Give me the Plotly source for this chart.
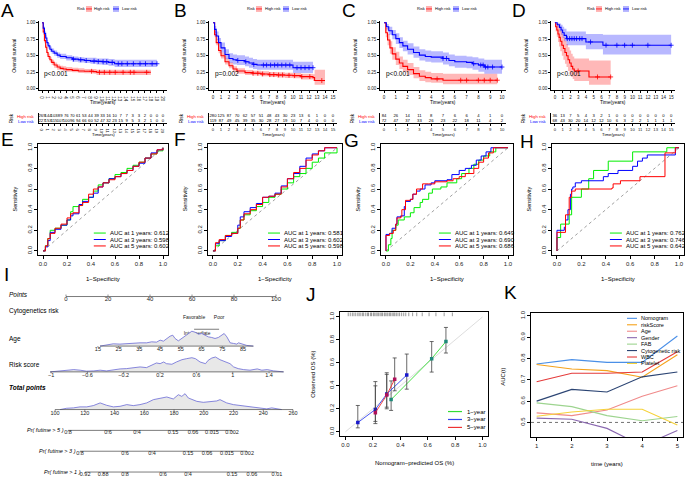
import numpy as np
import plotly.graph_objects as go

W, H = 685, 478
FONT = "Liberation Sans, Arial, sans-serif"
RED, BLUE = "#ff0000", "#0000ff"

# ---------------- A-D: Kaplan-Meier curves (time, survival, lower / upper CI) ----------------
A_hi_t = [0, 0.2, 0.4, 0.6, 0.8, 1.0, 1.3, 1.6, 2.0, 2.5, 3.0, 3.5, 4.0, 5.0, 6.0, 7.0, 8.5, 9.0, 18.0]
A_hi_s = [1.00, 0.86, 0.73, 0.63, 0.55, 0.49, 0.44, 0.40, 0.36, 0.33, 0.31, 0.30, 0.29, 0.28, 0.27, 0.265, 0.26, 0.25, 0.25]
A_hi_lo = [1.00, 0.82, 0.69, 0.59, 0.51, 0.45, 0.40, 0.36, 0.32, 0.29, 0.28, 0.27, 0.26, 0.25, 0.24, 0.235, 0.23, 0.21, 0.21]
A_hi_up = [1.00, 0.89, 0.77, 0.67, 0.59, 0.53, 0.48, 0.44, 0.40, 0.37, 0.35, 0.34, 0.33, 0.32, 0.31, 0.30, 0.30, 0.29, 0.29]
A_lo_t = [0, 0.2, 0.4, 0.6, 0.8, 1.0, 1.3, 1.6, 2.0, 2.5, 3.0, 4.0, 5.0, 6.0, 7.0, 8.0, 9.0, 10.0, 11.0, 12.0, 19.0]
A_lo_s = [1.00, 0.92, 0.84, 0.77, 0.70, 0.65, 0.60, 0.57, 0.54, 0.51, 0.49, 0.47, 0.45, 0.44, 0.43, 0.42, 0.415, 0.41, 0.40, 0.38, 0.38]
A_lo_lo = [1.00, 0.89, 0.80, 0.73, 0.66, 0.61, 0.56, 0.53, 0.50, 0.47, 0.45, 0.43, 0.41, 0.40, 0.39, 0.38, 0.37, 0.36, 0.35, 0.33, 0.33]
A_lo_up = [1.00, 0.95, 0.88, 0.81, 0.74, 0.69, 0.64, 0.61, 0.58, 0.55, 0.53, 0.51, 0.49, 0.48, 0.47, 0.47, 0.46, 0.46, 0.45, 0.44, 0.44]
A_hi_cens = [8.2, 9.5, 10.3, 11.2, 12.1, 13.4, 14.6, 15.2, 17.3]
A_lo_cens = [5.2, 6.4, 7.3, 8.6, 9.3, 10.1, 10.7, 11.6, 12.6, 13.2, 14.1, 15.1, 16.2, 17.1, 18.2, 19.0]
A_times = list(range(0, 21))
A_n_hi = [269, 144, 103, 89, 76, 70, 61, 53, 44, 39, 33, 16, 10, 7, 7, 3, 3, 2, 0, 0, 0]
A_n_lo = [227, 153, 115, 107, 100, 96, 94, 66, 60, 52, 47, 32, 23, 15, 9, 5, 3, 2, 1, 0, 0]

B_hi_t = [0, 0.2, 0.4, 0.7, 1.0, 1.5, 2.0, 2.5, 3.0, 4.0, 5.0, 6.0, 7.0, 8.0, 9.0, 10.0, 11.0, 12.5, 12.7, 14.0]
B_hi_s = [1.00, 0.82, 0.70, 0.58, 0.50, 0.41, 0.35, 0.30, 0.27, 0.245, 0.235, 0.225, 0.215, 0.21, 0.205, 0.20, 0.185, 0.17, 0.125, 0.125]
B_hi_lo = [1.00, 0.78, 0.66, 0.54, 0.46, 0.37, 0.31, 0.26, 0.23, 0.21, 0.20, 0.19, 0.18, 0.17, 0.165, 0.16, 0.14, 0.12, 0.06, 0.06]
B_hi_up = [1.00, 0.87, 0.75, 0.63, 0.55, 0.46, 0.40, 0.34, 0.31, 0.285, 0.275, 0.265, 0.255, 0.25, 0.245, 0.24, 0.23, 0.22, 0.29, 0.29]
B_lo_t = [0, 0.2, 0.4, 0.7, 1.0, 1.5, 2.0, 2.5, 3.0, 4.0, 4.5, 5.0, 5.5, 6.0, 8.0, 10.0, 12.5]
B_lo_s = [1.00, 0.90, 0.80, 0.70, 0.62, 0.52, 0.46, 0.44, 0.43, 0.41, 0.39, 0.37, 0.36, 0.36, 0.36, 0.32, 0.32]
B_lo_lo = [1.00, 0.85, 0.74, 0.63, 0.55, 0.45, 0.39, 0.37, 0.36, 0.34, 0.32, 0.30, 0.29, 0.29, 0.29, 0.24, 0.24]
B_lo_up = [1.00, 0.95, 0.87, 0.77, 0.70, 0.60, 0.54, 0.52, 0.51, 0.49, 0.47, 0.45, 0.44, 0.44, 0.44, 0.41, 0.41]
B_hi_cens = [5.0, 5.6, 6.2, 7.1, 7.6, 8.2, 8.7, 9.5, 10.2, 11.1, 12.1, 13.6]
B_lo_cens = [3.1, 4.1, 5.1, 6.3, 6.7, 7.2, 7.7, 8.1, 8.6, 9.1, 9.6, 10.5, 11.0, 11.5, 12.0, 12.5]
B_times = list(range(0, 16))
B_n_hi = [280, 125, 87, 70, 62, 57, 51, 48, 43, 30, 23, 13, 6, 1, 0, 0]
B_n_lo = [119, 87, 49, 45, 39, 35, 30, 28, 27, 19, 10, 7, 4, 0, 0, 0]

C_hi_t = [0, 0.15, 0.3, 0.5, 0.7, 1.0, 1.3, 1.6, 2.0, 2.5, 3.0, 3.5, 4.0, 5.0, 9.6]
C_hi_s = [1.00, 0.85, 0.74, 0.62, 0.53, 0.45, 0.39, 0.34, 0.29, 0.23, 0.19, 0.17, 0.15, 0.13, 0.13]
C_hi_lo = [1.00, 0.78, 0.66, 0.53, 0.44, 0.36, 0.30, 0.26, 0.21, 0.16, 0.12, 0.10, 0.09, 0.07, 0.07]
C_hi_up = [1.00, 0.92, 0.83, 0.72, 0.63, 0.56, 0.49, 0.44, 0.39, 0.33, 0.28, 0.26, 0.24, 0.23, 0.23]
C_lo_t = [0, 0.2, 0.4, 0.7, 1.0, 1.3, 1.6, 2.0, 2.5, 3.0, 3.5, 4.0, 5.0, 5.5, 6.0, 7.0, 7.5, 8.0, 8.5, 10.0]
C_lo_s = [1.00, 0.94, 0.88, 0.82, 0.76, 0.70, 0.65, 0.60, 0.55, 0.51, 0.49, 0.48, 0.46, 0.43, 0.41, 0.40, 0.38, 0.36, 0.33, 0.33]
C_lo_lo = [1.00, 0.90, 0.82, 0.75, 0.68, 0.62, 0.57, 0.52, 0.47, 0.43, 0.41, 0.40, 0.37, 0.34, 0.32, 0.31, 0.29, 0.26, 0.23, 0.23]
C_lo_up = [1.00, 0.98, 0.94, 0.89, 0.84, 0.78, 0.73, 0.69, 0.64, 0.60, 0.58, 0.57, 0.55, 0.52, 0.50, 0.49, 0.48, 0.46, 0.44, 0.44]
C_hi_cens = [4.5, 6.5, 7.0, 8.0, 8.5, 9.0, 9.6]
C_lo_cens = [5.0, 5.3, 7.6, 8.2, 8.4, 8.6, 8.8, 9.2, 10.0]
C_times = list(range(0, 11))
C_n_hi = [84, 26, 14, 11, 8, 7, 6, 6, 4, 1, 0]
C_n_lo = [72, 47, 37, 33, 26, 23, 22, 18, 11, 4, 2]

D_hi_t = [0, 0.1, 0.25, 0.4, 0.55, 0.7, 0.9, 1.1, 1.3, 1.5, 1.7, 1.9, 2.1, 2.3, 2.5, 4.4, 7.2]
D_hi_s = [1.00, 0.94, 0.89, 0.83, 0.78, 0.72, 0.66, 0.61, 0.55, 0.50, 0.44, 0.39, 0.34, 0.30, 0.27, 0.18, 0.18]
D_hi_lo = [1.00, 0.87, 0.79, 0.71, 0.64, 0.57, 0.50, 0.44, 0.38, 0.33, 0.27, 0.22, 0.18, 0.15, 0.12, 0.06, 0.06]
D_hi_up = [1.00, 1.00, 0.99, 0.96, 0.92, 0.88, 0.83, 0.78, 0.73, 0.68, 0.63, 0.58, 0.53, 0.49, 0.46, 0.43, 0.43]
D_lo_t = [0, 0.3, 0.6, 0.8, 1.0, 1.2, 1.5, 4.0, 6.2, 15.0]
D_lo_s = [1.00, 0.97, 0.93, 0.89, 0.85, 0.81, 0.76, 0.71, 0.66, 0.66]
D_lo_lo = [1.00, 0.93, 0.87, 0.82, 0.77, 0.72, 0.66, 0.60, 0.52, 0.52]
D_lo_up = [1.00, 1.00, 0.99, 0.97, 0.94, 0.91, 0.87, 0.83, 0.82, 0.82]
D_hi_cens = [3.0, 5.5, 7.2]
D_lo_cens = [1.6, 1.9, 2.2, 2.5, 2.8, 3.2, 3.5, 4.6, 6.6, 8.0, 9.0, 10.0, 12.0, 15.0]
D_times = list(range(0, 16))
D_n_hi = [36, 13, 7, 5, 4, 3, 2, 1, 0, 0, 0, 0, 0, 0, 0, 0]
D_n_lo = [68, 43, 30, 20, 14, 12, 12, 10, 6, 3, 2, 2, 1, 1, 1, 1]

KM_P = ["p<0.001", "p=0.002", "p<0.001", "p<0.001"]

# ---------------- E-H: time-dependent ROC (1, 3, 5 years) ----------------
E_fpr = [0, 0.02, 0.04, 0.06, 0.1, 0.15, 0.2, 0.23, 0.25, 0.3, 0.33, 0.38, 0.42, 0.46, 0.5, 0.55, 0.6, 0.65, 0.7, 0.75, 0.8, 0.85, 0.9, 0.95, 1.0]
E_tpr1 = [0, 0.05, 0.12, 0.2, 0.22, 0.25, 0.3, 0.38, 0.43, 0.44, 0.5, 0.52, 0.58, 0.64, 0.66, 0.7, 0.74, 0.76, 0.8, 0.83, 0.86, 0.9, 0.94, 0.97, 1.0]
E_tpr3 = [0, 0.04, 0.1, 0.18, 0.21, 0.25, 0.3, 0.34, 0.36, 0.45, 0.48, 0.52, 0.56, 0.62, 0.66, 0.7, 0.72, 0.75, 0.78, 0.82, 0.85, 0.9, 0.95, 0.98, 1.0]
E_tpr5 = [0, 0.05, 0.12, 0.17, 0.22, 0.26, 0.32, 0.36, 0.37, 0.44, 0.47, 0.55, 0.6, 0.62, 0.66, 0.69, 0.72, 0.75, 0.78, 0.82, 0.86, 0.9, 0.94, 0.98, 1.0]
E_auc = [0.612, 0.598, 0.602]

F_fpr = [0, 0.02, 0.05, 0.1, 0.15, 0.2, 0.22, 0.25, 0.3, 0.35, 0.4, 0.45, 0.5, 0.55, 0.6, 0.65, 0.7, 0.75, 0.8, 0.85, 0.9, 1.0]
F_tpr1 = [0, 0.05, 0.1, 0.15, 0.18, 0.22, 0.3, 0.35, 0.39, 0.43, 0.47, 0.52, 0.55, 0.6, 0.66, 0.72, 0.75, 0.8, 0.86, 0.9, 0.95, 1.0]
F_tpr3 = [0, 0.07, 0.1, 0.14, 0.17, 0.25, 0.33, 0.38, 0.42, 0.46, 0.52, 0.53, 0.56, 0.63, 0.7, 0.75, 0.82, 0.9, 0.94, 0.97, 1.0, 1.0]
F_tpr5 = [0, 0.08, 0.11, 0.15, 0.17, 0.22, 0.3, 0.36, 0.4, 0.45, 0.52, 0.53, 0.55, 0.62, 0.7, 0.76, 0.8, 0.88, 0.93, 0.97, 1.0, 1.0]
F_auc = [0.581, 0.602, 0.598]

G_fpr1 = [0, 0.02, 0.04, 0.05, 0.08, 0.1, 0.15, 0.2, 0.23, 0.28, 0.3, 0.35, 0.38, 0.45, 0.5, 0.58, 0.62, 0.68, 0.72, 0.76, 0.8, 0.85, 0.9, 1.0]
G_tpr1 = [0, 0.06, 0.12, 0.2, 0.25, 0.3, 0.33, 0.37, 0.42, 0.47, 0.5, 0.56, 0.6, 0.62, 0.66, 0.7, 0.75, 0.8, 0.84, 0.88, 0.92, 0.96, 1.0, 1.0]
G_fpr3 = [0, 0, 0.03, 0.05, 0.08, 0.09, 0.12, 0.15, 0.16, 0.2, 0.22, 0.25, 0.28, 0.32, 0.37, 0.4, 0.5, 0.54, 0.6, 0.65, 0.7, 0.74, 0.78, 0.82, 0.86, 1.0]
G_tpr3 = [0, 0.16, 0.17, 0.22, 0.26, 0.33, 0.34, 0.43, 0.48, 0.5, 0.55, 0.58, 0.6, 0.64, 0.66, 0.68, 0.69, 0.74, 0.78, 0.8, 0.83, 0.88, 0.92, 0.96, 1.0, 1.0]
G_fpr5 = [0, 0, 0.03, 0.06, 0.08, 0.09, 0.12, 0.13, 0.16, 0.2, 0.22, 0.25, 0.3, 0.35, 0.4, 0.5, 0.55, 0.6, 0.65, 0.72, 0.76, 0.8, 0.84, 0.88, 1.0]
G_tpr5 = [0, 0.15, 0.17, 0.2, 0.26, 0.32, 0.33, 0.4, 0.49, 0.5, 0.55, 0.6, 0.65, 0.65, 0.67, 0.68, 0.7, 0.72, 0.75, 0.8, 0.86, 0.9, 0.95, 1.0, 1.0]
G_auc = [0.649, 0.690, 0.686]

H_fpr1 = [0, 0, 0.03, 0.03, 0.1, 0.1, 0.12, 0.12, 0.2, 0.2, 0.26, 0.26, 0.3, 0.3, 0.42, 0.42, 0.62, 0.62, 0.9, 0.9, 1.0]
H_tpr1 = [0, 0.13, 0.13, 0.26, 0.26, 0.35, 0.35, 0.52, 0.52, 0.6, 0.6, 0.7, 0.7, 0.78, 0.78, 0.87, 0.87, 0.96, 0.96, 1.0, 1.0]
H_fpr3 = [0, 0, 0.06, 0.07, 0.09, 0.11, 0.12, 0.13, 0.15, 0.2, 0.38, 0.42, 0.5, 0.62, 0.66, 0.7, 0.74, 0.97, 0.97, 1.0]
H_tpr3 = [0, 0.2, 0.23, 0.3, 0.4, 0.55, 0.6, 0.62, 0.66, 0.68, 0.72, 0.75, 0.78, 0.82, 0.87, 0.9, 0.93, 0.93, 1.0, 1.0]
H_fpr5 = [0, 0, 0.07, 0.1, 0.12, 0.15, 0.45, 0.46, 0.52, 0.68, 0.885, 0.97, 0.97, 1.0]
H_tpr5 = [0, 0.18, 0.35, 0.52, 0.58, 0.6, 0.61, 0.65, 0.68, 0.72, 0.95, 0.95, 1.0, 1.0]
H_auc = [0.762, 0.746, 0.642]

# ---------------- I: nomogram ----------------
POINTS_TICKS = [0, 20, 40, 60, 80, 100]
CYTO_LEVELS = ["Favorable", "Intermediate", "Poor"]
CYTO_PTS = [61.0, 62.4, 72.9]
AGE_TICKS = [15, 25, 35, 45, 55, 65, 75, 85]
AGE_SCALE = (15, 85, 15.2, 84.3)          # value range -> points
AGE_DENS_X = [16.0, 19.2, 22.4, 25.6, 28.9, 32.1, 35.3, 38.5, 40.9, 43.3, 45.0, 46.6, 48.2, 49.8, 51.1, 52.2,
              53.8, 55.4, 57.0, 58.6, 60.3, 61.9, 63.5, 65.1, 66.7, 68.3, 69.9, 71.5, 73.1, 74.8, 75.9, 77.2,
              78.8, 80.4, 82.0, 82.8, 84.4, 86.8, 90.0]
AGE_DENS_Y = [0, 1.3, 2.3, 2.0, 2.7, 2.7, 3.3, 3.3, 4.3, 4.0, 6.0, 5.0, 7.7, 10.0, 11.0, 7.7,
              5.3, 7.7, 10.0, 12.7, 15.0, 14.0, 12.0, 12.7, 11.0, 9.3, 8.7, 7.7, 8.7, 11.0, 12.7, 9.3,
              3.3, 2.7, 2.0, 3.3, 2.0, 0.7, 0]
RISK_TICKS = [-1, -0.6, -0.2, 0.2, 0.6, 1, 1.4]
RISK_LABELS = ["\u22121", "\u22120.6", "\u22120.2", "0.2", "0.6", "1", "1.4"]
RISK_SCALE = (-1, 1.4, -7.1, 96.7)
RISK_DENS_X = [-1.01, -0.92, -0.83, -0.75, -0.68, -0.61, -0.53, -0.46, -0.39, -0.31, -0.24, -0.17, -0.09, -0.02,
               0.05, 0.11, 0.16, 0.20, 0.24, 0.27, 0.33, 0.38, 0.44, 0.49, 0.55, 0.59, 0.64, 0.70, 0.73, 0.77,
               0.81, 0.86, 0.92, 0.97, 1.01, 1.06, 1.12, 1.19, 1.27, 1.32, 1.38, 1.45, 1.56]
RISK_DENS_Y = [0, 1.0, 1.7, 2.3, 1.7, 0.7, 1.0, 1.7, 1.0, 2.3, 3.0, 3.3, 4.0, 5.0,
               4.3, 6.7, 9.0, 8.3, 10.0, 8.3, 7.7, 10.0, 12.3, 13.3, 14.3, 13.3, 10.0, 8.3, 11.7, 14.0,
               15.0, 12.3, 10.0, 8.3, 5.0, 3.3, 2.3, 1.7, 3.0, 1.7, 2.3, 1.0, 0]
TOTAL_TICKS = [100, 120, 140, 160, 180, 200, 220, 240, 260]
TOTAL_SCALE = (100, 260, -5.2, 108.1)
TOTAL_DENS_X = [103.4, 107.8, 112.3, 116.8, 121.3, 125.7, 130.3, 134.7, 139.2, 143.7, 148.2, 152.6, 157.1,
                161.6, 166.1, 170.6, 175.1, 179.5, 182.9, 185.2, 187.4, 189.6, 191.9, 195.3, 199.7, 204.2,
                208.7, 210.9, 215.4, 219.9, 224.4, 228.9, 233.3, 237.8, 242.3, 245.7, 249.1, 252.4]
TOTAL_DENS_Y = [0, 1.3, 1.7, 2.7, 2.7, 4.0, 6.7, 4.3, 2.7, 3.3, 5.0, 4.0, 5.0,
                6.7, 10.0, 11.7, 12.7, 10.7, 15.0, 13.3, 16.0, 11.7, 10.0, 8.3, 7.3, 8.0,
                8.7, 10.0, 6.7, 5.0, 4.0, 3.3, 2.7, 1.7, 0.7, 1.7, 0.7, 0]
PR5_LABELS = ["0.8", "0.6", "0.4", "0.15", "0.06", "0.015", "0.002"]
PR5_TOTAL = [108.7, 135.6, 155.1, 179.3, 192.8, 205.5, 219.0]
PR3_LABELS = ["0.8", "0.6", "0.4", "0.15", "0.06", "0.015", "0.002"]
PR3_TOTAL = [116.8, 147.1, 165.2, 189.4, 202.2, 215.6, 229.1]
PR1_LABELS = ["0.92", "0.88", "0.8", "0.6", "0.4", "0.15", "0.06", "0.01"]
PR1_TOTAL = [120.2, 132.3, 147.1, 172.6, 189.4, 219.0, 232.4, 249.2]

# ---------------- J: calibration ----------------
J_1y_pred = [0.333, 0.629, 0.733]
J_1y_obs = [0.280, 0.637, 0.786]
J_1y_lo = [0.186, 0.520, 0.686]
J_1y_hi = [0.443, 0.786, 0.909]
J_3y_pred = [0.090, 0.218, 0.301, 0.447]
J_3y_obs = [0.080, 0.194, 0.329, 0.494]
J_3y_lo = [0.034, 0.071, 0.214, 0.371]
J_3y_hi = [0.229, 0.437, 0.514, 0.677]
J_5y_pred = [0.218, 0.301, 0.359]
J_5y_obs = [0.166, 0.320, 0.457]
J_5y_lo = [0.090, 0.200, 0.357]
J_5y_hi = [0.400, 0.500, 0.643]
J_rug = [0.02, 0.035, 0.05, 0.062, 0.075, 0.09, 0.1, 0.112, 0.125, 0.133, 0.148, 0.16, 0.168, 0.182, 0.19,
         0.203, 0.21, 0.222, 0.231, 0.24, 0.252, 0.261, 0.27, 0.283, 0.29, 0.302, 0.31, 0.322, 0.33, 0.341,
         0.352, 0.36, 0.371, 0.383, 0.395, 0.41, 0.425, 0.44, 0.462, 0.49, 0.52, 0.56, 0.61, 0.66, 0.72, 0.78]

# ---------------- K: AUC(t) of nomogram vs. factors ----------------
K_years = [1, 2, 3, 4, 5]
K_names = ["Nomogram", "riskScore", "Age", "Gender", "FAB", "Cytogenetic risk", "WBC", "Platelet"]
K_auc = [
    [0.774, 0.795, 0.782, 0.782, 0.906],
    [0.772, 0.751, 0.743, 0.712, 0.818],
    [0.545, 0.532, 0.558, 0.623, 0.672],
    [0.520, 0.515, 0.472, 0.390, 0.462],
    [0.592, 0.574, 0.532, 0.508, 0.528],
    [0.600, 0.655, 0.643, 0.714, 0.737],
    [0.691, 0.731, 0.731, 0.737, 0.832],
    [0.529, 0.549, 0.562, 0.562, 0.488],
]
K_colors = ["#4a8fe7", "#f5a21c", "#f08a8a", "#8a68b0", "#9dd48f", "#2b4473", "#e43a3a", "#f6d23a"]

# =====================================================================
fig = go.Figure()
lay = dict(width=W, height=H, margin=dict(l=0, r=0, t=0, b=0), autosize=False,
           paper_bgcolor="white", plot_bgcolor="rgba(0,0,0,0)", showlegend=False,
           font=dict(family=FONT, color="black", size=6))
ann, shp = [], []


def px2x(p):
    return p / W


def px2y(p):
    return 1 - p / H


def note(x, y, s, size=6, color="black", xa="center", ya="middle", angle=0):
    ann.append(dict(x=px2x(x), y=px2y(y), xref="paper", yref="paper", text=s, showarrow=False,
                    font=dict(size=size, color=color, family=FONT), xanchor=xa, yanchor=ya,
                    textangle=angle, borderpad=0))


def seg(x0, y0, x1, y1, color, width=1, dash=None):
    shp.append(dict(type="line", xref="paper", yref="paper", x0=px2x(x0), y0=px2y(y0),
                    x1=px2x(x1), y1=px2y(y1), line=dict(color=color, width=width, dash=dash)))


def add_axes(n, xd, xr, yd, yr, xkw=None, ykw=None):
    sfx = "" if n == 1 else str(n)
    base = dict(showgrid=False, zeroline=False, showline=True, linecolor="black", linewidth=0.7,
                ticks="outside", ticklen=2.5, tickwidth=0.7, tickcolor="black",
                tickfont=dict(size=5, family=FONT, color="#222"), fixedrange=True)
    xa = dict(base, domain=[px2x(xd[0]), px2x(xd[1])], range=list(xr), anchor="y" + sfx)
    ya = dict(base, domain=[px2y(yd[1]), px2y(yd[0])], range=list(yr), anchor="x" + sfx)
    xa.update(xkw or {})
    ya.update(ykw or {})
    lay["xaxis" + sfx] = xa
    lay["yaxis" + sfx] = ya
    return "x" + sfx, "y" + sfx


def step_at(t, s, q):
    idx = np.searchsorted(np.asarray(t), np.asarray(q), side="right") - 1
    return list(np.asarray(s)[idx])


# ---------------- KM panels ----------------
km = [
    dict(tag="A", xd=(39, 167), xr=(-0.5, 20.66),
         hi=(A_hi_t, A_hi_s, A_hi_lo, A_hi_up, A_hi_cens), lo=(A_lo_t, A_lo_s, A_lo_lo, A_lo_up, A_lo_cens),
         times=A_times, nhi=A_n_hi, nlo=A_n_lo),
    dict(tag="B", xd=(209, 337), xr=(-0.5, 15.5),
         hi=(B_hi_t, B_hi_s, B_hi_lo, B_hi_up, B_hi_cens), lo=(B_lo_t, B_lo_s, B_lo_lo, B_lo_up, B_lo_cens),
         times=B_times, nhi=B_n_hi, nlo=B_n_lo),
    dict(tag="C", xd=(380, 506), xr=(-0.34, 10.34),
         hi=(C_hi_t, C_hi_s, C_hi_lo, C_hi_up, C_hi_cens), lo=(C_lo_t, C_lo_s, C_lo_lo, C_lo_up, C_lo_cens),
         times=C_times, nhi=C_n_hi, nlo=C_n_lo),
    dict(tag="D", xd=(551, 675), xr=(-0.5, 15.5),
         hi=(D_hi_t, D_hi_s, D_hi_lo, D_hi_up, D_hi_cens), lo=(D_lo_t, D_lo_s, D_lo_lo, D_lo_up, D_lo_cens),
         times=D_times, nhi=D_n_hi, nlo=D_n_lo),
]
KM_TOP, KM_BOT = 18.5, 88.0
for i, p in enumerate(km):
    xa, ya = add_axes(i + 1, p["xd"], p["xr"], (KM_TOP, KM_BOT), (-0.022, 1.022),
                      xkw=dict(dtick=1, tick0=0, ticklen=2, tickfont=dict(size=4.5, family=FONT, color="#222")),
                      ykw=dict(tickvals=[0, 0.25, 0.5, 0.75, 1], tickformat=".2f", ticklen=2,
                               tickfont=dict(size=4.5, family=FONT, color="#222")))
    groups = [(p["hi"], RED, "rgba(255,0,0,0.28)"), (p["lo"], BLUE, "rgba(0,0,255,0.28)")]
    for (t, s, lo, up, cens), col, fc in groups:
        fig.add_trace(go.Scatter(x=t, y=lo, mode="lines", line=dict(width=0, shape="hv"),
                                 xaxis=xa, yaxis=ya, hoverinfo="skip"))
        fig.add_trace(go.Scatter(x=t, y=up, mode="lines", line=dict(width=0, shape="hv"), fill="tonexty",
                                 fillcolor=fc, xaxis=xa, yaxis=ya, hoverinfo="skip"))
    for (t, s, lo, up, cens), col, fc in groups:
        fig.add_trace(go.Scatter(x=t, y=s, mode="lines", line=dict(color=col, width=1.1, shape="hv"),
                                 xaxis=xa, yaxis=ya))
        fig.add_trace(go.Scatter(x=cens, y=step_at(t, s, cens), mode="markers",
                                 marker=dict(symbol="cross-thin", size=3.5, line=dict(color=col, width=0.8)),
                                 xaxis=xa, yaxis=ya))
    x0, x1 = p["xd"]
    mid = (x0 + x1) / 2
    note(x0 - 25, (KM_TOP + KM_BOT) / 2, "Overall survival", size=5, angle=-90)
    note(mid, 100, "Time(years)", size=4.8)
    t0px = x0 + (0 - p["xr"][0]) / (p["xr"][1] - p["xr"][0]) * (x1 - x0)
    note(t0px + 1, 72, KM_P[i], size=6.5, xa="left")
    # legend
    lx = mid - 27
    note(lx, 6, "Risk", size=4, xa="left")
    for off, col, fc, lab in [(10, RED, "rgba(255,0,0,0.3)", "High risk"), (37, BLUE, "rgba(0,0,255,0.3)", "Low risk")]:
        shp.append(dict(type="rect", xref="paper", yref="paper", x0=px2x(lx + off), x1=px2x(lx + off + 6),
                        y0=px2y(9), y1=px2y(3), fillcolor=fc, line=dict(width=0)))
        seg(lx + off, 6, lx + off + 6, 6, col, 0.8)
        note(lx + off + 7.5, 6, lab, size=4, xa="left")
    # risk table
    tx, ty = add_axes(i + 5, p["xd"], p["xr"], (110.5, 121.5), (-0.5, 1.7),
                      xkw=dict(dtick=1, tick0=0, ticklen=1.2, tickfont=dict(size=4.2, family=FONT, color="#222")),
                      ykw=dict(showticklabels=False, ticks=""))
    fig.add_trace(go.Scatter(x=p["times"], y=[1] * len(p["times"]), mode="text", text=[str(v) for v in p["nhi"]],
                             textfont=dict(size=4.2, family=FONT, color="black"), xaxis=tx, yaxis=ty, cliponaxis=False))
    fig.add_trace(go.Scatter(x=p["times"], y=[0] * len(p["times"]), mode="text", text=[str(v) for v in p["nlo"]],
                             textfont=dict(size=4.2, family=FONT, color="black"), xaxis=tx, yaxis=ty, cliponaxis=False))
    note(x0 - 3, 114, "High risk", size=4.3, color=RED, xa="right")
    note(x0 - 3, 119, "Low risk", size=4.3, color=BLUE, xa="right")
    note(x0 - 28, 116.5, "Risk", size=5, angle=-90)
    note(mid, 133, "Time(years)", size=4.3)

# ---------------- ROC panels ----------------
ROC_COLS = ["#00ee00", "#0000ff", "#ff0000"]
roc = [
    dict(xd=(38.2, 167.8), curves=[(E_fpr, E_tpr1), (E_fpr, E_tpr3), (E_fpr, E_tpr5)], auc=E_auc),
    dict(xd=(208.0, 342.0), curves=[(F_fpr, F_tpr1), (F_fpr, F_tpr3), (F_fpr, F_tpr5)], auc=F_auc),
    dict(xd=(381.1, 512.9), curves=[(G_fpr1, G_tpr1), (G_fpr3, G_tpr3), (G_fpr5, G_tpr5)], auc=G_auc),
    dict(xd=(552.1, 683.9), curves=[(H_fpr1, H_tpr1), (H_fpr3, H_tpr3), (H_fpr5, H_tpr5)], auc=H_auc),
]
ROC_TOP, ROC_BOT = 141.8, 254.2
tick01 = dict(tickvals=[0, 0.2, 0.4, 0.6, 0.8, 1.0], tickformat=".1f", mirror=True, ticklen=3,
              tickfont=dict(size=6, family=FONT, color="#222"))
for i, p in enumerate(roc):
    xa, ya = add_axes(i + 9, p["xd"], (-0.04, 1.04), (ROC_TOP, ROC_BOT), (-0.04, 1.04),
                      xkw=dict(tick01), ykw=dict(tick01, tickangle=-90))
    fig.add_trace(go.Scatter(x=[0, 1], y=[0, 1], mode="lines", line=dict(color="#777", width=0.7, dash="dot"),
                             xaxis=xa, yaxis=ya))
    for (fx, ty_), col in zip(p["curves"], ROC_COLS):
        fig.add_trace(go.Scatter(x=fx, y=ty_, mode="lines", line=dict(color=col, width=1, shape="hv"),
                                 xaxis=xa, yaxis=ya))
    x0, x1 = p["xd"]
    note(x0 - 23, (ROC_TOP + ROC_BOT) / 2, "Sensitivity", size=5.5, angle=-90)
    note((x0 + x1) / 2, 278, "1\u2212Specificity", size=6)
    for k, (yr, col, a) in enumerate(zip([1, 3, 5], ROC_COLS, p["auc"])):
        yy = 232 + 6.5 * k
        seg(x1 - 74, yy, x1 - 62, yy, col, 1)
        note(x1 - 59, yy, "AUC at %d years: %.3f" % (yr, a), size=6, xa="left")

# ---------------- I: nomogram ----------------
NOMO_X0, NOMO_PPX = 66, 2.1
nx, ny = add_axes(13, (0, 340), ((0 - NOMO_X0) / NOMO_PPX, (340 - NOMO_X0) / NOMO_PPX), (282, 478), (478, 282),
                  xkw=dict(visible=False), ykw=dict(visible=False))
AXC = "#444"


def lin(v, sc):
    v0, v1, p0, p1 = sc
    return list(p0 + (np.asarray(v, dtype=float) - v0) * (p1 - p0) / (v1 - v0))


def nomo_axis(xs, labels, y, lab_dy=3.5, size=5.5, span=None, tick_up=False):
    a, b = span if span else (min(xs), max(xs))
    fig.add_trace(go.Scatter(x=[a, b], y=[y, y], mode="lines", line=dict(color=AXC, width=0.7),
                             xaxis=nx, yaxis=ny))
    tx, tyv = [], []
    for v in xs:
        tx += [v, v, None]
        tyv += [y, y - 2 if tick_up else y + 1.5, None]
    fig.add_trace(go.Scatter(x=tx, y=tyv, mode="lines", line=dict(color=AXC, width=0.6), xaxis=nx, yaxis=ny))
    fig.add_trace(go.Scatter(x=xs, y=[y + lab_dy] * len(xs), mode="text", text=labels,
                             textfont=dict(size=size, family=FONT, color="#222"), xaxis=nx, yaxis=ny,
                             cliponaxis=False))


def nomo_density(xs, hs, y):
    fig.add_trace(go.Scatter(x=xs, y=[y - h for h in hs], mode="lines", fill="toself", fillcolor="#e8e8e8",
                             line=dict(color="#6a6ad6", width=0.8), xaxis=nx, yaxis=ny))


# Points
nomo_axis(POINTS_TICKS, [str(v) for v in POINTS_TICKS], 296, lab_dy=3.5, size=6, tick_up=True)
note(8, 294, "<i>Points</i>", size=6.5, xa="left")
# Cytogenetics risk
note(8, 311, "Cytogenetics risk", size=6.5, xa="left")
fig.add_trace(go.Scatter(x=[CYTO_PTS[0], CYTO_PTS[-1]], y=[329, 329], mode="lines",
                         line=dict(color=AXC, width=0.7), xaxis=nx, yaxis=ny))
fig.add_trace(go.Scatter(x=[CYTO_PTS[0], CYTO_PTS[2]], y=[317, 317], mode="text",
                         text=[CYTO_LEVELS[0], CYTO_LEVELS[2]],
                         textfont=dict(size=5, family=FONT, color="#222"), xaxis=nx, yaxis=ny))
fig.add_trace(go.Scatter(x=[CYTO_PTS[1]], y=[333.5], mode="text", text=[CYTO_LEVELS[1]],
                         textfont=dict(size=4.8, family=FONT, color="#222"), xaxis=nx, yaxis=ny))
# Age
note(8, 339, "Age", size=6.5, xa="left")
age_dx = lin(AGE_DENS_X, AGE_SCALE)
nomo_density(age_dx, AGE_DENS_Y, 346)
nomo_axis(lin(AGE_TICKS, AGE_SCALE), [str(v) for v in AGE_TICKS], 346, span=(age_dx[0], age_dx[-1]))
# Risk score
note(8, 365, "Risk score", size=6.5, xa="left")
risk_dx = lin(RISK_DENS_X, RISK_SCALE)
nomo_density(risk_dx, RISK_DENS_Y, 372)
nomo_axis(lin(RISK_TICKS, RISK_SCALE), RISK_LABELS, 372, span=(risk_dx[0], risk_dx[-1]))
# Total points
note(8, 388, "<b><i>Total points</i></b>", size=6.5, xa="left")
tot_dx = lin(TOTAL_DENS_X, TOTAL_SCALE)
nomo_density(tot_dx, TOTAL_DENS_Y, 410)
tot_ticks = lin(TOTAL_TICKS, TOTAL_SCALE)
nomo_axis(tot_ticks, [str(v) for v in TOTAL_TICKS], 410, lab_dy=4, span=(tot_ticks[0], tot_ticks[-1]))
# survival probabilities
for labels, totals, y, yr in [(PR5_LABELS, PR5_TOTAL, 431, 5), (PR3_LABELS, PR3_TOTAL, 452, 3),
                              (PR1_LABELS, PR1_TOTAL, 473, 1)]:
    xs = lin(totals, TOTAL_SCALE)
    nomo_axis(xs, labels, y, lab_dy=2.5, size=5.5)
    note(NOMO_X0 + xs[0] * NOMO_PPX - 3, y, "<i>Pr( futime > %d )</i>" % yr, size=5.5, xa="right")

# ---------------- J: calibration ----------------
jx, jy = add_axes(14, (340, 488), (-0.04, 1.04), (312, 437), (-0.04, 1.04),
                  xkw=dict(tick01), ykw=dict(tick01, tickangle=-90))
fig.add_trace(go.Scatter(x=[0, 1], y=[0, 1], mode="lines", line=dict(color="#d4d4d4", width=0.8),
                         xaxis=jx, yaxis=jy))
fig.add_trace(go.Scatter(x=J_rug, y=[1.025] * len(J_rug), mode="markers",
                         marker=dict(symbol="line-ns", size=3, line=dict(color="#555", width=0.6)),
                         xaxis=jx, yaxis=jy))
J_sets = [(J_1y_pred, J_1y_obs, J_1y_lo, J_1y_hi, "#33dd33", "#1f8a7a", "1\u2212year"),
          (J_3y_pred, J_3y_obs, J_3y_lo, J_3y_hi, "#3344ee", "#1a1acc", "3\u2212year"),
          (J_5y_pred, J_5y_obs, J_5y_lo, J_5y_hi, "#ee3333", "#b0105a", "5\u2212year")]
for k, (px_, ob, lo, hi, lc, mc, lab) in enumerate(J_sets):
    fig.add_trace(go.Scatter(x=px_, y=ob, mode="lines", line=dict(color=lc, width=0.9), xaxis=jx, yaxis=jy))
    fig.add_trace(go.Scatter(x=px_, y=ob, mode="markers",
                             marker=dict(symbol="square", size=3.5, color=mc),
                             error_y=dict(type="data", symmetric=False,
                                          array=list(np.subtract(hi, ob)), arrayminus=list(np.subtract(ob, lo)),
                                          color="#444", thickness=0.8, width=2),
                             xaxis=jx, yaxis=jy))
    yy = 412 + 8 * k
    seg(448, yy, 462, yy, lc, 1.2)
    note(466, yy, lab, size=6, xa="left")
note(414, 464, "Nomogram\u2212predicted OS (%)", size=6)
note(313, 375, "Observed OS (%)", size=6, angle=-90)

# ---------------- K: AUC over time ----------------
kx, ky = add_axes(15, (531, 683), (0.84, 5.16), (313, 438), (0.43, 1.012),
                  xkw=dict(dtick=1, tick0=1, mirror=True, ticklen=3, tickfont=dict(size=6, family=FONT, color="#222")),
                  ykw=dict(dtick=0.1, tick0=0.5, tickformat=".1f", tickangle=-90, mirror=True, ticklen=3,
                           tickfont=dict(size=6, family=FONT, color="#222")))
fig.add_trace(go.Scatter(x=[0.84, 5.16], y=[0.5, 0.5], mode="lines", line=dict(color="#333", width=0.7, dash="dot"),
                         xaxis=kx, yaxis=ky))
for k, (name, vals, col) in enumerate(zip(K_names, K_auc, K_colors)):
    fig.add_trace(go.Scatter(x=K_years, y=vals, mode="lines", line=dict(color=col, width=1.1),
                             xaxis=kx, yaxis=ky))
    yy = 318 + 6.5 * k
    seg(627, yy, 637, yy, col, 1.1)
    note(640, yy, name, size=5.5, xa="left")
note(607, 465, "time (years)", size=6)
note(503, 377, "AUC(t)", size=6, angle=-90)

# ---------------- panel letters ----------------
for s, x, y in [("A", 7, 8), ("B", 180, 8), ("C", 349, 8), ("D", 519, 8), ("E", 7.5, 138), ("F", 180, 138),
                ("G", 351, 139), ("H", 527, 140), ("I", 6.5, 274), ("J", 311, 294), ("K", 510, 292)]:
    note(x, y, s, size=19)

lay["annotations"] = ann
lay["shapes"] = shp
fig.update_layout(**lay)
fig.write_html("out.html", config={"displayModeBar": False},
               post_script="document.body.style.margin='0';document.body.style.padding='0';")
